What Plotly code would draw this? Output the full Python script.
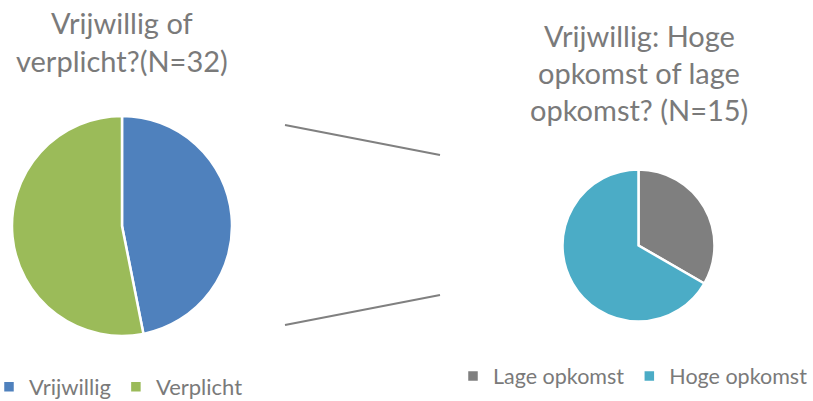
import plotly.graph_objects as go

# Data
left_labels = ["Vrijwillig", "Verplicht"]
left_values = [15, 17]
right_labels = ["Lage opkomst", "Hoge opkomst"]
right_values = [5, 10]

left_title_lines = ["Vrijwillig of", "verplicht?(N=32)"]
right_title_lines = ["Vrijwillig: Hoge", "opkomst of lage", "opkomst? (N=15)"]

left_colors = ["#4F81BD", "#9BBB59"]
right_colors = ["#7F7F7F", "#4BACC6"]

W, H = 813, 401
FONT = "Lato"
TXT = "#7a7a7a"

def px_x(x):
    return x / W

def px_y(y):
    return 1 - y / H

fig = go.Figure()
fig.add_trace(go.Pie(
    labels=left_labels, values=left_values, sort=False, direction="clockwise",
    rotation=0, textinfo="none", hoverinfo="label+value",
    marker=dict(colors=left_colors, line=dict(color="white", width=2.5)),
    domain=dict(x=[px_x(12), px_x(232)], y=[px_y(336), px_y(116)]),
    legend="legend",
))
fig.add_trace(go.Pie(
    labels=right_labels, values=right_values, sort=False, direction="clockwise",
    rotation=0, textinfo="none", hoverinfo="label+value",
    marker=dict(colors=right_colors, line=dict(color="white", width=2.5)),
    domain=dict(x=[px_x(562.5), px_x(714.5)], y=[px_y(321.5), px_y(169.5)]),
    legend="legend2",
))

# connector lines
for (x0, y0, x1, y1) in [(285, 125, 440, 155), (285, 325, 440, 295)]:
    fig.add_shape(type="line", xref="paper", yref="paper",
                  x0=px_x(x0), y0=px_y(y0), x1=px_x(x1), y1=px_y(y1),
                  line=dict(color="#808080", width=2.2))

# titles, one annotation per line
for i, line in enumerate(left_title_lines):
    fig.add_annotation(text=line, xref="paper", yref="paper",
                       x=px_x(122), y=px_y(23 + 38 * i), xanchor="center", yanchor="middle",
                       showarrow=False, align="center",
                       font=dict(family=FONT, size=29, color=TXT))
for i, line in enumerate(right_title_lines):
    fig.add_annotation(text=line, xref="paper", yref="paper",
                       x=px_x(639), y=px_y(35 + 37 * i), xanchor="center", yanchor="middle",
                       showarrow=False, align="center",
                       font=dict(family=FONT, size=29, color=TXT))

fig.update_layout(
    width=W, height=H,
    margin=dict(l=0, r=0, t=0, b=0, autoexpand=False),
    paper_bgcolor="white", plot_bgcolor="white",
    showlegend=True,
    legend=dict(orientation="h", x=px_x(-11), y=px_y(387), xanchor="left", yanchor="middle",
                font=dict(family=FONT, size=22, color=TXT), bgcolor="rgba(0,0,0,0)",
                itemwidth=30, traceorder="normal"),
    legend2=dict(orientation="h", x=px_x(453), y=px_y(376), xanchor="left", yanchor="middle",
                 font=dict(family=FONT, size=21.5, color=TXT), bgcolor="rgba(0,0,0,0)",
                 itemwidth=30, traceorder="normal"),
)

fig.write_html("out.html", config={"displayModeBar": False},
               post_script="document.body.style.margin='0';document.body.style.overflow='hidden';")
